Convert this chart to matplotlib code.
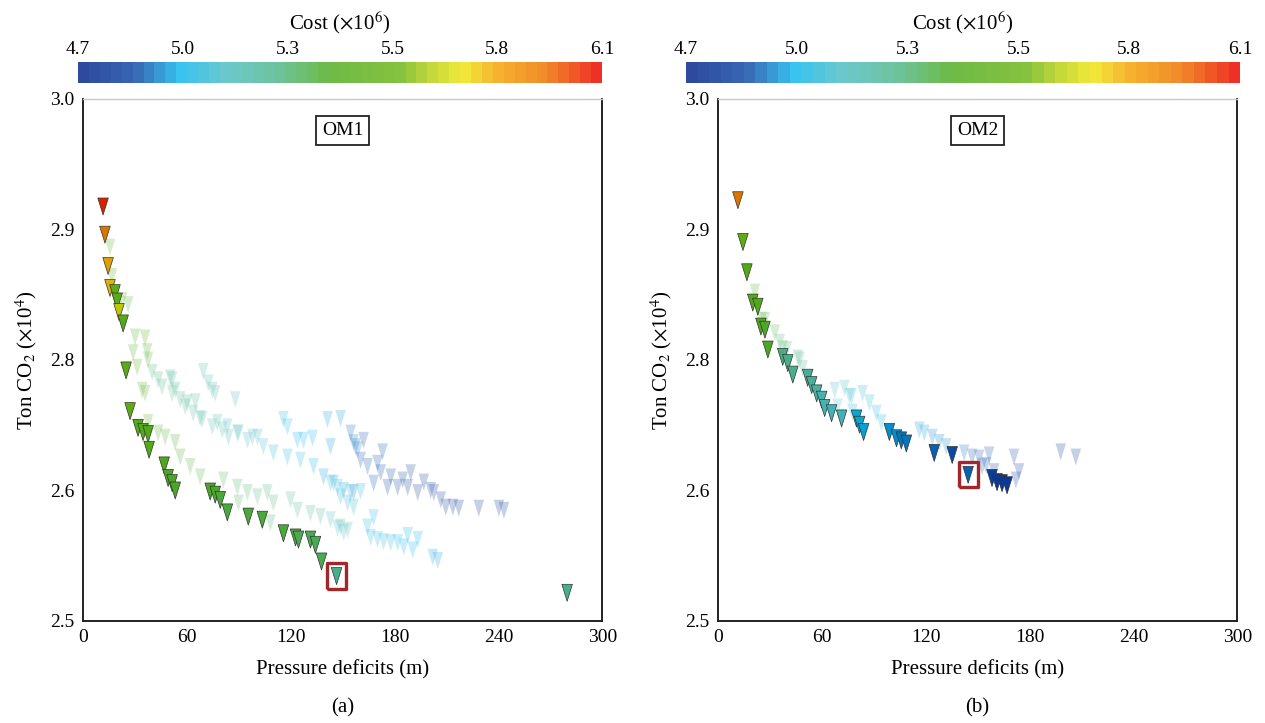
import matplotlib
matplotlib.use("Agg")
import matplotlib.pyplot as plt
import numpy as np
from matplotlib.colors import LinearSegmentedColormap, Normalize, rgb_to_hsv, hsv_to_rgb
from matplotlib.cm import ScalarMappable

plt.rcParams['font.family'] = ['Liberation Serif', 'DejaVu Serif']
plt.rcParams['mathtext.fontset'] = 'stix'

# ---- data ----
# OM1: front (opaque) solutions
om1_x = [11.6, 12.7, 14.5, 15.6, 18.5, 19.7, 20.8, 23.2, 24.9, 27.2, 31.8, 34.7, 37.6, 38.2,
         46.9, 49.2, 51.5, 53.3, 73.5, 76.4, 79.3, 83.4, 95.5, 103.6, 115.8, 122.8, 124.5,
         131.4, 134.3, 137.8, 146.5, 279.7]
om1_y = [2.897, 2.870, 2.840, 2.819, 2.814, 2.806, 2.796, 2.785, 2.740, 2.701, 2.685, 2.681,
         2.679, 2.664, 2.649, 2.637, 2.632, 2.625, 2.624, 2.621, 2.616, 2.604, 2.600, 2.597,
         2.584, 2.580, 2.578, 2.578, 2.573, 2.557, 2.543, 2.527]
om1_c = [6.05, 5.90, 5.78, 5.75, 5.50, 5.48, 5.68, 5.45, 5.47, 5.50, 5.45, 5.43, 5.42, 5.45,
         5.38, 5.37, 5.37, 5.36, 5.35, 5.35, 5.34, 5.34, 5.33, 5.33, 5.32, 5.32, 5.31, 5.31,
         5.30, 5.30, 5.22, 5.20]

# OM1: other (faded) solutions
om1_fx = [15.6, 16.8, 22.6, 26.1, 30.1, 35.9, 29.0, 37.1, 37.6, 31.3, 34.2, 35.9,
          40.0, 43.4, 45.7, 51.5, 50.4, 53.3, 69.5, 72.4, 74.7, 76.4, 88.0, 51.5, 56.2, 59.1,
          64.9, 63.7, 68.9, 74.7, 80.5, 84.0, 89.8, 97.9, 60.2, 67.7, 77.6, 83.4, 89.2, 95.0,
          100.8, 104.2, 110.0,
          115.8, 118.1, 118.1, 123.9, 127.4, 132.6, 125.6, 133.2, 139.0, 141.3, 148.8, 143.0,
          144.8, 150.6, 156.3, 156.3, 158.7,
          154.6, 157.5, 162.1, 160.4, 164.4, 170.2, 173.1, 172.0, 167.9, 176.0, 177.8, 181.8,
          184.7, 187.6, 189.3, 193.4, 196.9, 200.9, 202.7, 206.7, 209.6, 213.7, 217.1, 228.7,
          240.3, 243.2,
          143.0, 147.1, 148.8, 152.9, 156.3, 160.4, 154.6, 143.0, 147.1, 150.6, 164.4, 167.9,
          166.2, 170.2, 173.7, 177.8, 181.8, 185.3, 187.6, 190.5, 193.4, 202.1, 205.0,
          37.6, 43.4, 47.5, 53.3, 56.2, 62.0, 67.7, 81.1, 89.2, 95.0, 100.8, 106.5, 110.0,
          119.9, 123.9, 131.4, 137.2, 148.8, 152.9, 89.8, 108.3]
om1_fy = [2.858, 2.830, 2.807, 2.803, 2.772, 2.771, 2.757, 2.758, 2.750, 2.743, 2.721, 2.718,
          2.738, 2.731, 2.724, 2.731, 2.733, 2.721, 2.739, 2.728, 2.721, 2.718, 2.712, 2.718,
          2.712, 2.705, 2.710, 2.699, 2.693, 2.686, 2.683, 2.676, 2.680, 2.676, 2.709, 2.694,
          2.690, 2.686, 2.680, 2.673, 2.676, 2.667, 2.661,
          2.693, 2.686, 2.657, 2.673, 2.673, 2.675, 2.654, 2.648, 2.638, 2.693, 2.694, 2.667,
          2.632, 2.625, 2.671, 2.623, 2.664,
          2.680, 2.667, 2.673, 2.654, 2.648, 2.651, 2.662, 2.642, 2.632, 2.628, 2.638, 2.628,
          2.635, 2.628, 2.642, 2.623, 2.633, 2.625, 2.623, 2.616, 2.609, 2.609, 2.608, 2.608,
          2.608, 2.606,
          2.632, 2.628, 2.619, 2.613, 2.609, 2.624, 2.623, 2.597, 2.589, 2.585, 2.590, 2.599,
          2.580, 2.578, 2.576, 2.575, 2.575, 2.571, 2.582, 2.568, 2.578, 2.561, 2.558,
          2.690, 2.680, 2.676, 2.671, 2.657, 2.648, 2.638, 2.635, 2.628, 2.623, 2.619, 2.623,
          2.613, 2.616, 2.606, 2.603, 2.600, 2.590, 2.587, 2.613, 2.594]
om1_fc = [5.45, 5.45, 5.42, 5.42, 5.40, 5.38, 5.40, 5.36, 5.36, 5.40, 5.40, 5.38,
          5.25, 5.24, 5.23, 5.22, 5.22, 5.21, 5.15, 5.15, 5.15, 5.14, 5.12, 5.22, 5.20, 5.20,
          5.18, 5.18, 5.17, 5.15, 5.14, 5.13, 5.12, 5.10, 5.19, 5.17, 5.14, 5.13, 5.12, 5.10,
          5.08, 5.07, 5.05,
          5.00, 5.00, 5.02, 4.98, 4.98, 4.97, 5.00, 4.98, 4.96, 4.95, 4.94, 4.96,
          4.95, 4.94, 4.92, 4.93, 4.92,
          4.88, 4.88, 4.86, 4.87, 4.86, 4.85, 4.85, 4.84, 4.85, 4.83, 4.83, 4.82,
          4.82, 4.81, 4.81, 4.80, 4.80, 4.79, 4.79, 4.79, 4.78, 4.78, 4.78, 4.77,
          4.77, 4.76,
          5.05, 5.05, 5.04, 5.03, 5.03, 5.02, 5.03, 5.08, 5.07, 5.06, 5.02, 5.02,
          5.02, 5.01, 5.00, 5.00, 4.99, 4.98, 4.98, 4.97, 4.97, 4.95, 4.95,
          5.40, 5.38, 5.37, 5.36, 5.35, 5.34, 5.33, 5.30, 5.28, 5.27, 5.25, 5.25, 5.24,
          5.22, 5.21, 5.20, 5.19, 5.15, 5.14, 5.30, 5.27]

# OM2: front (opaque) solutions
om2_x = [11.5, 14.4, 16.7, 20.1, 23.0, 24.8, 27.1, 28.8, 37.4, 40.3, 43.2, 51.8, 54.1, 57.0,
         59.9, 61.6, 65.6, 71.4, 80.0, 81.8, 84.1, 99.0, 103.1, 105.9, 108.8, 124.9, 135.3,
         144.5, 158.3, 161.2, 164.1, 167.0]
om2_y = [2.903, 2.863, 2.834, 2.805, 2.801, 2.782, 2.779, 2.760, 2.753, 2.747, 2.736, 2.733,
         2.726, 2.718, 2.712, 2.704, 2.699, 2.694, 2.694, 2.688, 2.681, 2.681, 2.675, 2.673,
         2.670, 2.661, 2.659, 2.640, 2.637, 2.633, 2.632, 2.630]
om2_c = [5.90, 5.50, 5.45, 5.42, 5.40, 5.38, 5.37, 5.35, 5.25, 5.22, 5.20, 5.18, 5.17, 5.15,
         5.13, 5.12, 5.10, 5.08, 5.02, 5.00, 4.98, 4.95, 4.94, 4.93, 4.92, 4.88, 4.87,
         4.90, 4.82, 4.80, 4.80, 4.80]

# OM2: other (faded) solutions
om2_fx = [21.3, 25.3, 27.1, 32.8, 35.7, 37.4, 39.7, 46.1, 47.2, 48.9, 67.4, 73.1, 76.0, 77.1,
          83.5, 87.5, 69.1, 77.7, 91.5, 94.4, 116.3, 119.2, 123.8, 127.8, 131.8, 142.2, 146.8,
          150.8, 156.6, 154.9, 152.6, 159.5, 171.0, 173.9, 172.1, 198.0, 206.7]
om2_fy = [2.815, 2.788, 2.788, 2.776, 2.767, 2.761, 2.760, 2.752, 2.750, 2.742, 2.721, 2.723,
          2.715, 2.715, 2.718, 2.709, 2.705, 2.700, 2.699, 2.690, 2.683, 2.680, 2.676, 2.671,
          2.667, 2.661, 2.657, 2.656, 2.659, 2.649, 2.648, 2.643, 2.657, 2.643, 2.635, 2.662,
          2.657]
om2_fc = [5.35, 5.33, 5.32, 5.30, 5.28, 5.27, 5.26, 5.22, 5.22, 5.20, 5.10, 5.08, 5.07, 5.07,
          5.05, 5.03, 5.08, 5.05, 5.00, 4.99, 4.95, 4.94, 4.93, 4.92, 4.91, 4.88, 4.87,
          4.86, 4.85, 4.86, 4.86, 4.84, 4.82, 4.81, 4.81, 4.78, 4.77]

# highlighted solutions (index in the front lists)
om1_pick = 30
om2_pick = 27

x_ticks = [0, 60, 120, 180, 240, 300]
y_ticks = [2.5, 2.625, 2.75, 2.875, 3.0]
y_labels = ['2.5', '2.6', '2.8', '2.9', '3.0']
c_ticks = [4.7, 4.98, 5.26, 5.54, 5.82, 6.1]
c_labels = ['4.7', '5.0', '5.3', '5.5', '5.8', '6.1']

# ---- styling ----
cmap = LinearSegmentedColormap.from_list('cost', [
    (0.00, '#2e4a9e'), (0.10, '#3866b4'), (0.19, '#38c3f0'), (0.28, '#6cc8cc'),
    (0.38, '#6dc39c'), (0.48, '#6dba45'), (0.62, '#86c23f'), (0.68, '#c5d93a'),
    (0.74, '#f1e93a'), (0.80, '#f6b52e'), (0.90, '#f18a2a'), (1.00, '#ee3124')], N=48)
norm = Normalize(4.7, 6.1)

tri = [(-0.62, 1.0), (0.62, 1.0), (0.0, -1.0), (-0.62, 1.0)]
box = [(-0.75, -1.0), (0.75, -1.0), (0.75, 1.0), (-0.75, 1.0), (-0.75, -1.0)]

fig = plt.figure(figsize=(12.65, 7.23), dpi=100)

panels = [
    (0.0656, 0.0617, 0.4142, 'OM1', '(a)', om1_x, om1_y, om1_c, om1_fx, om1_fy, om1_fc, om1_pick),
    (0.5676, 0.5423, 0.4380, 'OM2', '(b)', om2_x, om2_y, om2_c, om2_fx, om2_fy, om2_fc, om2_pick),
]

for left, cleft, cwidth, name, tag, px, py, pc, fx, fy, fc, pick in panels:
    ax = fig.add_axes([left, 0.1411, 0.4105, 0.722])
    ax.scatter(fx, fy, c=fc, cmap=cmap, norm=norm, marker=tri, s=150, alpha=0.28,
               linewidths=0, zorder=2)
    # front markers: more saturated, slightly darker (shaded look)
    hsv = rgb_to_hsv(cmap(norm(np.array(pc)))[:, :3])
    hsv[:, 1] = np.clip(hsv[:, 1] * 1.35, 0, 1)
    hsv[:, 2] = hsv[:, 2] * 0.9
    front_cols = hsv_to_rgb(hsv)
    ax.scatter(px, py, c=front_cols, marker=tri, s=150,
               edgecolors='#333333', linewidths=0.5, zorder=3)
    ax.scatter([px[pick]], [py[pick]], marker=box, s=330, facecolors='none',
               edgecolors='#a3262a', linewidths=2.4, zorder=4)

    ax.set_xlim(0, 300)
    ax.set_ylim(2.5, 3.0)
    ax.set_xticks(x_ticks)
    ax.set_yticks(y_ticks)
    ax.set_yticklabels(y_labels)
    ax.tick_params(length=0, labelsize=14, pad=6)
    for s in ['left', 'bottom', 'right']:
        ax.spines[s].set_color('#222222')
        ax.spines[s].set_linewidth(1.4)
    ax.spines['top'].set_color('#c8c8c8')
    ax.spines['top'].set_linewidth(1.0)

    ax.set_xlabel('Pressure deficits (m)', fontsize=15, labelpad=10)
    ax.set_ylabel(r'Ton CO$_2$ ($\times$10$^4$)', fontsize=15, labelpad=8)
    ax.text(0.5, 0.94, name, transform=ax.transAxes, ha='center', va='center', fontsize=14,
            bbox=dict(boxstyle='square,pad=0.3', facecolor='white', edgecolor='#222222', lw=1.3))
    ax.text(0.5, -0.167, tag, transform=ax.transAxes, ha='center', va='center', fontsize=15)

    cax = fig.add_axes([cleft, 0.8852, cwidth, 0.029])
    cb = fig.colorbar(ScalarMappable(norm=norm, cmap=cmap), cax=cax, orientation='horizontal')
    cb.outline.set_visible(False)
    cb.set_ticks(c_ticks)
    cb.set_ticklabels(c_labels)
    cax.xaxis.set_ticks_position('top')
    cax.xaxis.set_label_position('top')
    cax.tick_params(length=0, labelsize=14, pad=3)
    cax.set_xlabel(r'Cost ($\times$10$^6$)', fontsize=15, labelpad=8)

fig.savefig('out.png', dpi=100)
